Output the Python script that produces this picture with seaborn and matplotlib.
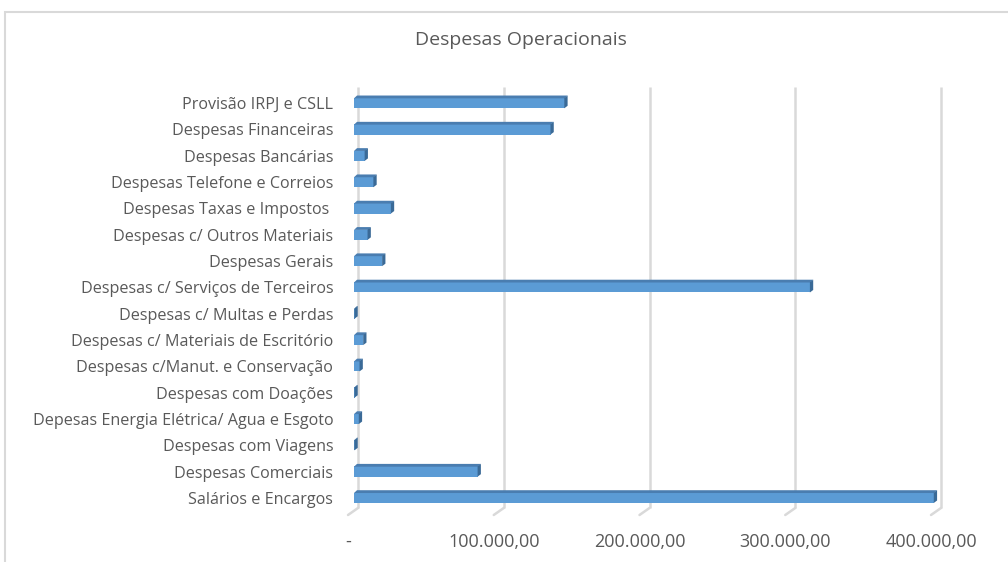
import numpy as np
import pandas as pd
import seaborn as sns
import matplotlib.pyplot as plt
import matplotlib.transforms as mtransforms
from matplotlib.patches import Polygon, Rectangle

sns.set_theme(style="white")
plt.rcParams['font.family'] = ['Open Sans', 'DejaVu Sans']

# dados
categorias = [
    "Provisão IRPJ e CSLL",
    "Despesas Financeiras",
    "Despesas Bancárias",
    "Despesas Telefone e Correios",
    "Despesas Taxas e Impostos ",
    "Despesas c/ Outros Materiais",
    "Despesas Gerais",
    "Despesas c/ Serviços de Terceiros",
    "Despesas c/ Multas e Perdas",
    "Despesas c/ Materiais de Escritório",
    "Despesas c/Manut. e Conservação",
    "Despesas com Doações",
    "Depesas Energia Elétrica/ Agua e Esgoto",
    "Despesas com Viagens",
    "Despesas Comerciais",
    "Salários e Encargos",
]
valores = [144500, 135000, 7500, 13500, 25500, 9500, 19500, 313000,
           500, 6500, 4000, 500, 3500, 500, 85000, 398000]
ticks = [0, 100000, 200000, 300000, 400000]
tick_labels = ["-", "100.000,00", "200.000,00", "300.000,00", "400.000,00"]

df = pd.DataFrame({"cat": categorias, "val": valores})

W, H = 1008, 562
fig = plt.figure(figsize=(W / 100, H / 100), dpi=100)
fig.patch.set_facecolor("white")

# moldura do grafico
fig.patches.append(Rectangle((5 / W, -0.1), 1.2, (H - 12) / H + 0.1,
                             transform=fig.transFigure, fill=False,
                             edgecolor="#D9D9D9", linewidth=1.5))

ax_l, ax_r, ax_t, ax_b = 354, 937, 90, 511
ax = fig.add_axes([ax_l / W, 1 - ax_b / H, (ax_r - ax_l) / W, (ax_b - ax_t) / H])

front = "#5B9BD5"
top_c = "#4A7DB0"
side_c = "#3A6A97"
bar_w = 0.39
n = len(categorias)

sns.barplot(data=df, x="val", y="cat", orient="h", color=front,
            width=bar_w, saturation=1, ax=ax, zorder=3,
            linewidth=0, edgecolor="none")
ax.set_xlim(0, 400000)
ax.set_ylim(n - 0.5, -0.5)

# efeito 3D: topo e lateral
px_x = 400000 / (ax_r - ax_l)
px_y = n / (ax_b - ax_t)
dx, dy = 3 * px_x, 2.5 * px_y
for p in list(ax.patches):
    x0 = p.get_x()
    x1 = x0 + p.get_width()
    yt = p.get_y()
    yb = yt + p.get_height()
    ax.add_patch(Polygon([(x0, yt + 0.3 * px_y), (x1, yt + 0.3 * px_y), (x1 + dx, yt - dy),
                          (x0 + dx, yt - dy)],
                         closed=True, facecolor=top_c, edgecolor="none", zorder=3, clip_on=False))
    ax.add_patch(Polygon([(x1 - 0.3 * px_x, yt), (x1 + dx, yt - dy), (x1 + dx, yb - dy),
                          (x1 - 0.3 * px_x, yb)],
                         closed=True, facecolor=side_c, edgecolor="none", zorder=3, clip_on=False))

# grade (parede de fundo + piso)
g_off = 4 * px_x
y_low = n - 0.5 - 3 * px_y
ax.vlines([t + g_off for t in ticks], -0.5 - 3 * px_y, y_low,
          color="#D9D9D9", linewidth=1.8, zorder=1, clip_on=False)
for t in ticks:
    ax.plot([t + g_off, t + g_off - 10 * px_x], [y_low, y_low + 7 * px_y],
            color="#D9D9D9", linewidth=1.8, zorder=1, clip_on=False)

ax.set_xticks(ticks)
ax.set_xticklabels(tick_labels)
ax.tick_params(axis="x", length=0, pad=16, labelsize=13, colors="#595959")
ax.tick_params(axis="y", length=0, pad=15, labelsize=11.6, colors="#595959")
shift = mtransforms.ScaledTranslation(-6 / 100, 0, fig.dpi_scale_trans)
for lab in ax.get_xticklabels():
    lab.set_transform(lab.get_transform() + shift)
ax.set_xlabel("")
ax.set_ylabel("")
for s in ax.spines.values():
    s.set_visible(False)
ax.set_facecolor("none")

fig.text(521 / W, 1 - 40 / H, "Despesas Operacionais", ha="center", va="center",
         fontsize=14, color="#595959")

fig.savefig("out.png", dpi=100)
